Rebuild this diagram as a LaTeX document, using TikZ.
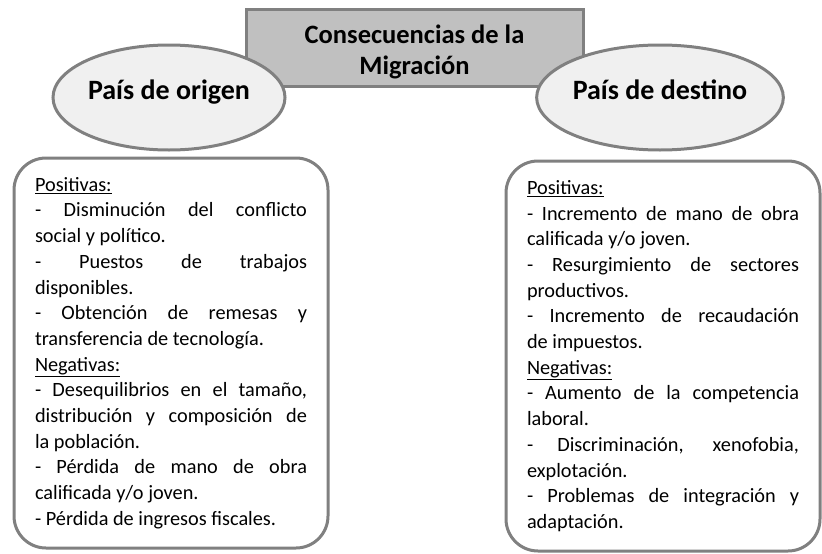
\documentclass[tikz,border=0pt]{standalone}
\usepackage{fontspec}
\setmainfont{Carlito}
\usetikzlibrary{shapes.geometric}

\definecolor{bordegris}{HTML}{808080}
\definecolor{fondotitulo}{HTML}{C0C0C0}
\definecolor{fondopais}{HTML}{F0F0F0}

\begin{document}
\begin{tikzpicture}[x=1pt,y=-1pt,
    every node/.style={draw=bordegris,line width=3pt},
    titulo/.style={rectangle,fill=fondotitulo,minimum width=337pt,minimum height=77pt},
    titulotexto/.style={draw=none,align=center,font=\fontsize{26.5}{31}\selectfont\bfseries},
    pais/.style={ellipse,fill=fondopais,minimum width=232pt,minimum height=105pt,inner sep=0pt,
        text depth=15pt,font=\fontsize{28}{33}\selectfont\bfseries},
    lista/.style={rectangle,rounded corners=32pt,fill=white,text width=272pt,minimum height=390pt,
        inner xsep=21pt,inner ysep=0pt,align=justify,font=\fontsize{20.3}{25.7}\selectfont,
        execute at begin node={\hyphenpenalty=10000 }}]
    \useasboundingbox (0,0) rectangle (822,554);

    \node[titulo] (tit) at (414.5,48) {};
    \node[titulotexto] (titmig) at ([yshift=-4pt]tit.center) {Consecuencias de la\\Migración};

    \foreach \nombre/\x/\texto in {origen/169/País de origen,destino/660/País de destino}{
        \node[pais] (\nombre) at (\x,97.5) {\texto};
    }

    \node[lista] (listaorigen) at (171,353) {%
        \underline{Positivas:}\par
        - Disminución del conflicto\linebreak social y político.\par
        - Puestos de trabajos\linebreak disponibles.\par
        - Obtención de remesas y\linebreak transferencia de tecnología.\par
        \underline{Negativas:}\par
        - Desequilibrios en el tamaño,\linebreak distribución y composición de\linebreak la población.\par
        - Pérdida de mano de obra\linebreak calificada y/o joven.\par
        - Pérdida de ingresos fiscales.};

    \node[lista] (listadestino) at (663,356) {%
        \underline{Positivas:}\par
        - Incremento de mano de obra\linebreak calificada y/o joven.\par
        - Resurgimiento de sectores\linebreak productivos.\par
        - Incremento de recaudación\linebreak de impuestos.\par
        \underline{Negativas:}\par
        - Aumento de la competencia\linebreak laboral.\par
        - Discriminación, xenofobia,\linebreak explotación.\par
        - Problemas de integración y\linebreak adaptación.};
\end{tikzpicture}
\end{document}
